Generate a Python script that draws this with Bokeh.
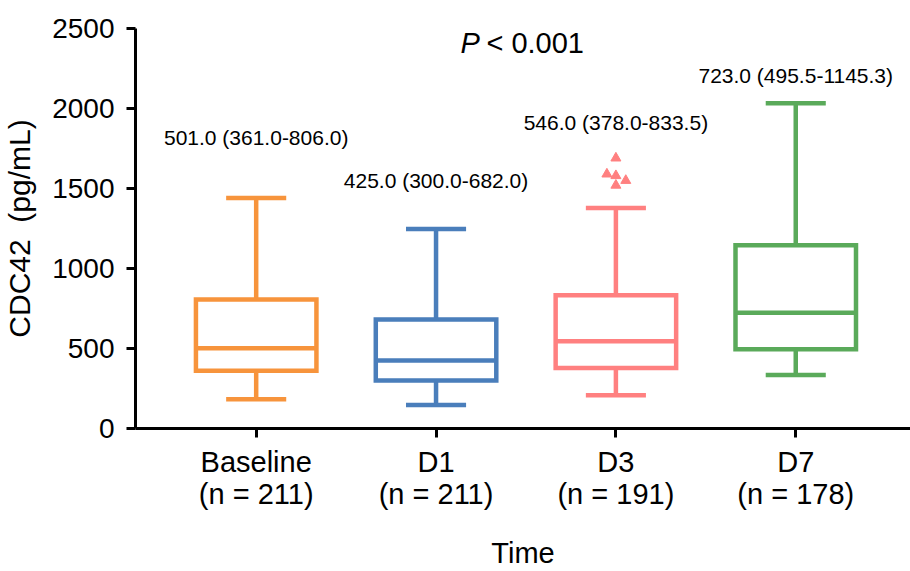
from bokeh.plotting import figure
from bokeh.models import Range1d, FixedTicker, ColumnDataSource
from bokeh.core.properties import value
from bokeh.embed import file_html
from bokeh.resources import INLINE

# ---- data ----
groups = ["Baseline", "D1", "D3", "D7"]
n_counts = [211, 211, 191, 178]
q1 = [361.0, 300.0, 378.0, 495.5]
median = [501.0, 425.0, 546.0, 723.0]
q3 = [806.0, 682.0, 833.5, 1145.3]
whisk_lo = [183, 147, 208, 334]
whisk_hi = [1440, 1247, 1378, 2033]
d3_outliers = [1690, 1590, 1580, 1550, 1520]
p_text = "< 0.001"

# ---- styles / layout ----
colors = ["#F7943C", "#4A7EBB", "#FF8080", "#5AAA5A"]
FONT = "Liberation Sans"
xs = [1, 2, 3, 4]
box_half = 0.335
cap_half = 0.167
label_y = [1819, 1550, 1912, 2206]
outlier_dx = [0.0, -0.05, 0.0, 0.055, 0.0]

p = figure(width=910, height=571, output_backend="svg", toolbar_location=None,
           x_range=Range1d(0.329, 4.638), y_range=Range1d(0, 2500),
           min_border_left=133, min_border_right=0, min_border_top=28,
           min_border_bottom=143)
p.outline_line_color = None
p.xgrid.visible = False
p.ygrid.visible = False
p.background_fill_color = "white"
p.border_fill_color = "white"

src = ColumnDataSource(dict(
    x=xs,
    left=[x - box_half for x in xs], right=[x + box_half for x in xs],
    cl=[x - cap_half for x in xs], cr=[x + cap_half for x in xs],
    q1=q1, med=median, q3=q3, lo=whisk_lo, hi=whisk_hi, color=colors,
    lab=[f"{m:.1f} ({a:.1f}-{b:.1f})" for m, a, b in zip(median, q1, q3)],
    ly=label_y,
))

LW = 4.5
p.segment(x0="x", y0="q3", x1="x", y1="hi", line_color="color", line_width=LW, source=src)
p.segment(x0="x", y0="q1", x1="x", y1="lo", line_color="color", line_width=LW, source=src)
p.segment(x0="cl", y0="hi", x1="cr", y1="hi", line_color="color", line_width=LW, source=src)
p.segment(x0="cl", y0="lo", x1="cr", y1="lo", line_color="color", line_width=LW, source=src)
p.quad(left="left", right="right", bottom="q1", top="q3", fill_color="white",
       line_color="color", line_width=LW, line_join="miter", source=src)
p.segment(x0="left", y0="med", x1="right", y1="med", line_color="color", line_width=LW, source=src)

ox = [3 + d for d in outlier_dx]
p.scatter(x=ox, y=d3_outliers, marker="triangle", size=10, color=colors[2])

p.text(x="x", y="ly", text="lab", source=src, text_align="center", text_baseline="middle",
       text_font=value(FONT), text_font_size="21px", text_color="black")

p.text(x=[2.243], y=[2412], text=["P"], text_align="right", text_baseline="middle",
       text_font=value(FONT), text_font_size="29px", text_font_style="italic", text_color="black")
p.text(x=[2.28], y=[2412], text=[p_text], text_align="left", text_baseline="middle",
       text_font=value(FONT), text_font_size="29px", text_color="black")

# axes
p.xaxis.ticker = FixedTicker(ticks=xs)
p.xaxis.major_label_overrides = {x: f"{g}\n(n = {n})" for x, g, n in zip(xs, groups, n_counts)}
p.yaxis.ticker = FixedTicker(ticks=[0, 500, 1000, 1500, 2000, 2500])
p.xaxis.axis_label = "Time"
p.yaxis.axis_label = "CDC42\u00a0 (pg/mL)"
for ax in (p.xaxis, p.yaxis):
    ax.axis_line_width = 3
    ax.axis_line_color = "black"
    ax.major_tick_line_width = 3
    ax.major_tick_line_color = "black"
    ax.major_tick_out = 9
    ax.major_tick_in = 0
    ax.minor_tick_line_color = None
    ax.major_label_text_font = FONT
    ax.major_label_text_color = "black"
    ax.axis_label_text_font = FONT
    ax.axis_label_text_font_style = "normal"
    ax.axis_label_text_color = "black"
p.xaxis.axis_label_text_font_size = "29px"
p.yaxis.axis_label_text_font_size = "30px"
p.xaxis.major_label_text_font_size = "29px"
p.xaxis.major_label_text_line_height = 1.0
p.yaxis.major_label_text_font_size = "28px"
p.yaxis.major_label_standoff = 12
p.yaxis.axis_label_standoff = 13
p.xaxis.major_label_standoff = 8
p.xaxis.axis_label_standoff = 24

open("out.html", "w").write(file_html(p, INLINE))
